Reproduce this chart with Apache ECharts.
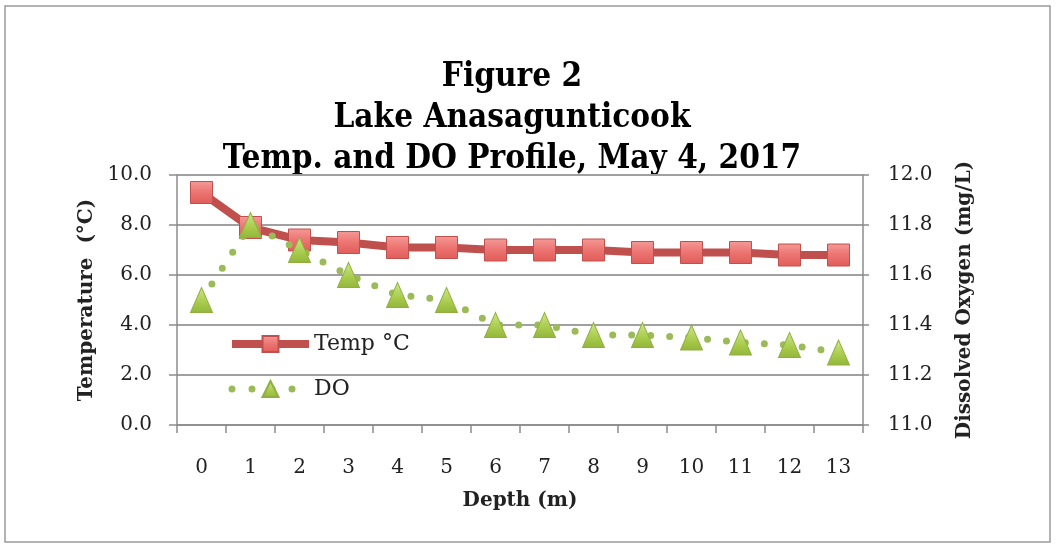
<!DOCTYPE html>
<html>
<head>
<meta charset="utf-8">
<script src="https://cdn.jsdelivr.net/npm/echarts@6/dist/echarts.min.js"></script>
<style>
html,body{margin:0;padding:0;background:#fff;}
#chart{width:1057px;height:548px;}
</style>
</head>
<body>
<div id="chart"></div>
<script>
const depths = ['0','1','2','3','4','5','6','7','8','9','10','11','12','13'];
const tempC = [9.3, 7.9, 7.4, 7.3, 7.1, 7.1, 7.0, 7.0, 7.0, 6.9, 6.9, 6.9, 6.8, 6.8];
const dissolvedO2 = [11.5, 11.8, 11.7, 11.6, 11.52, 11.5, 11.4, 11.4, 11.36, 11.36, 11.35, 11.33, 11.32, 11.29];
const titleLines = ['Figure 2', 'Lake Anasagunticook', 'Temp. and DO Profile, May 4, 2017'];

const serif = 'DejaVu Serif';
const chart = echarts.init(document.getElementById('chart'), null, {renderer: 'canvas'});

const option = {
  backgroundColor: '#ffffff',
  animation: false,
  graphic: [
    {type: 'rect', shape: {x: 5, y: 6, width: 1045, height: 536},
     style: {fill: null, stroke: '#9a9a9a', lineWidth: 1.5}, silent: true},
    {type: 'text', x: 512, y: 57, scaleX: 0.9, originX: 0,
     style: {text: titleLines.join('\n'), fill: '#000', font: 'bold 33px "DejaVu Serif"',
             align: 'center', verticalAlign: 'top', lineHeight: 41}}
  ],
  legend: {
    orient: 'vertical',
    left: 228,
    top: 333,
    padding: 0,
    itemWidth: 77,
    itemHeight: 20,
    itemGap: 23,
    textStyle: {fontFamily: serif, fontSize: 22, color: '#222'},
    data: [
      {name: 'Temp °C', lineStyle: {width: 8, color: '#c0504d'}},
      {name: 'DO', lineStyle: {width: 7, color: '#9bbb59', type: [0, 20], cap: 'round'}}
    ]
  },
  grid: {left: 177, right: 194, top: 175, bottom: 123, containLabel: false},
  xAxis: {
    type: 'category',
    data: depths,
    boundaryGap: true,
    name: 'Depth (m)',
    nameLocation: 'middle',
    nameGap: 66,
    nameTextStyle: {fontFamily: serif, fontWeight: 'bold', fontSize: 20, color: '#222'},
    axisLine: {lineStyle: {color: '#8c8c8c', width: 1.5}},
    axisTick: {show: true, alignWithLabel: false, length: 8, lineStyle: {color: '#8c8c8c', width: 1.5}},
    axisLabel: {fontFamily: serif, fontSize: 20, color: '#222', margin: 33, interval: 0}
  },
  yAxis: [
    {
      type: 'value', min: 0, max: 10, interval: 2,
      name: 'Temperature  (°C)',
      nameLocation: 'middle',
      nameGap: 80,
      nameTextStyle: {fontFamily: serif, fontWeight: 'bold', fontSize: 20, color: '#222'},
      axisLine: {show: true, lineStyle: {color: '#8c8c8c', width: 1.5}},
      axisTick: {show: true, length: 8, lineStyle: {color: '#8c8c8c', width: 1.5}},
      axisLabel: {fontFamily: serif, fontSize: 20, color: '#222', margin: 25,
                  formatter: v => v.toFixed(1)},
      splitLine: {show: true, lineStyle: {color: '#a0a0a0', width: 1.8}}
    },
    {
      type: 'value', min: 11, max: 12, interval: 0.2,
      name: 'Dissolved Oxygen (mg/L)',
      nameLocation: 'middle',
      nameGap: 92,
      nameRotate: 90,
      nameTextStyle: {fontFamily: serif, fontWeight: 'bold', fontSize: 20, color: '#222'},
      axisLine: {show: true, lineStyle: {color: '#8c8c8c', width: 1.5}},
      axisTick: {show: true, length: 6, lineStyle: {color: '#8c8c8c', width: 1.5}},
      axisLabel: {fontFamily: serif, fontSize: 20, color: '#222', margin: 25,
                  formatter: v => v.toFixed(1)},
      splitLine: {show: false}
    }
  ],
  series: [
    {
      name: 'Temp °C',
      type: 'line',
      yAxisIndex: 0,
      data: tempC,
      symbol: 'rect',
      symbolSize: 22,
      lineStyle: {color: '#c0504d', width: 8},
      itemStyle: {
        color: new echarts.graphic.LinearGradient(0, 0, 0, 1, [
          {offset: 0, color: '#f59a97'}, {offset: 0.5, color: '#ec7471'}, {offset: 1, color: '#e05c59'}]),
        borderColor: '#c0504d', borderWidth: 1
      },
      z: 2
    },
    {
      name: 'DO',
      type: 'line',
      yAxisIndex: 1,
      data: dissolvedO2,
      symbol: 'triangle',
      symbolSize: [22, 25],
      lineStyle: {color: '#9bbb59', width: 7, type: [0, 19], cap: 'round'},
      itemStyle: {
        color: new echarts.graphic.LinearGradient(0, 0, 0, 1, [
          {offset: 0, color: '#cfe78a'}, {offset: 0.6, color: '#a8cb4c'}, {offset: 1, color: '#93b53a'}]),
        borderColor: '#8fb040', borderWidth: 1
      },
      z: 3
    }
  ]
};
chart.setOption(option);
</script>
</body>
</html>
